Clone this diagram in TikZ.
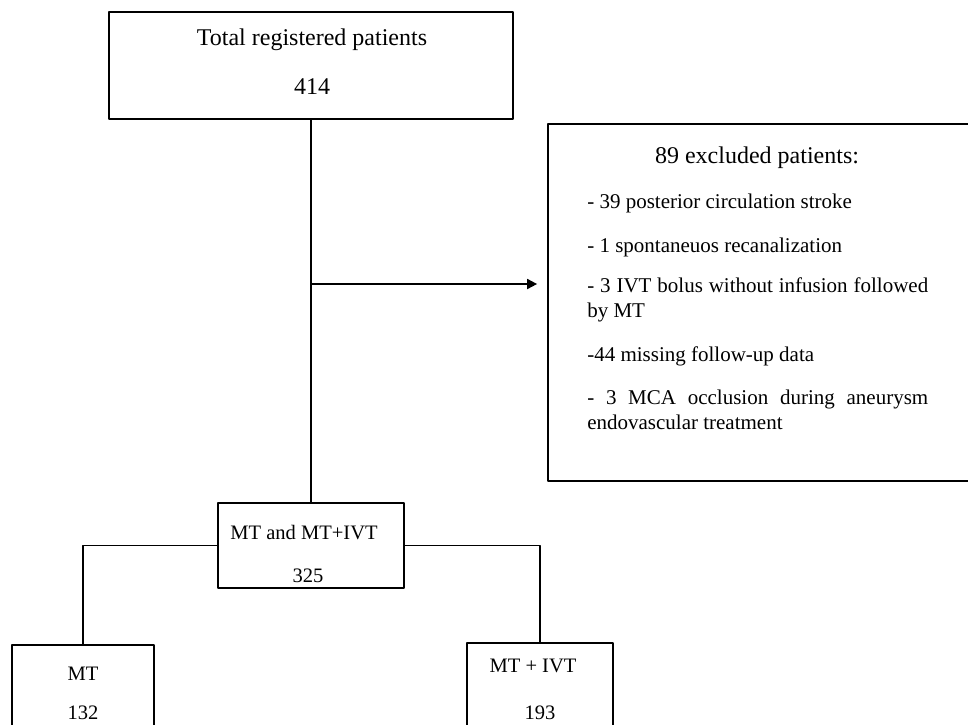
\documentclass[tikz,border=0pt]{standalone}
\usepackage{fontspec}
\setmainfont{Liberation Serif}
\usetikzlibrary{arrows.meta}

\begin{document}
\begin{tikzpicture}[x=0.75pt,y=-0.75pt,>={Triangle[length=7.5pt,width=7.5pt]},line cap=round,line join=round,
  box/.style={draw,line width=1.3pt,inner sep=0pt},
  link/.style={line width=1.3pt},
  big/.style={inner sep=0pt,font=\fontsize{18}{21.6}\selectfont},
  small/.style={inner sep=0pt,font=\fontsize{15.4}{18.5}\selectfont},
  item/.style={anchor=west,inner sep=0pt,text width=255.75pt,align=justify,font=\fontsize{15.75}{18.9}\selectfont}]
\useasboundingbox (0,0) rectangle (968,725);
\clip (0,0) rectangle (968,725);
% boxes
\node[box,minimum width=303pt,minimum height=80.25pt] (total) at (311,65.5) {};
\node[box,minimum width=331.5pt,minimum height=267.75pt] (excl) at (769,302.5) {};
\node[box,minimum width=139.5pt,minimum height=63.75pt] (mid) at (311,545.5) {};
\node[box,minimum width=106.5pt,minimum height=82.5pt] (mt) at (83,700) {};
\node[box,minimum width=109.5pt,minimum height=82.5pt] (mtivt) at (540,698) {};
% texts
\node[big] (ttl) at (312,40) {Total registered patients};
\node[big] (n414) at (312,87) {414};
\node[big] (exttl) at (757,158) {89 excluded patients:};
\foreach \y/\t [count=\i] in {203/{- 39 posterior circulation stroke},
    247/{- 1 spontaneuos recanalization},
    299.5/{- 3 IVT bolus without infusion followed\linebreak by MT},
    356/{-44 missing follow-up data},
    410/{- 3 MCA occlusion during aneurysm\linebreak endovascular treatment}}
  {\node[item] (ex\i) at (587,\y) {\t};}
\node[small] (midttl) at (304,533) {MT and MT+IVT};
\node[small] (n325) at (308,576) {325};
\node[small] (mtttl) at (83,674) {MT};
\node[small] (n132) at (83,713) {132};
\node[small] (ivtttl) at (533,666) {MT + IVT};
\node[small] (n193) at (540,713) {193};
% connectors
\coordinate (split) at (311,284);
\draw[link] (total.south) -- (mid.north);
\draw[link,->,shorten >=7.5pt] (split) -- (split -| excl.west);
\draw[link] (mid.west) -| (mt.north);
\draw[link] (mid.east) -| (mtivt.north);
\end{tikzpicture}
\end{document}
